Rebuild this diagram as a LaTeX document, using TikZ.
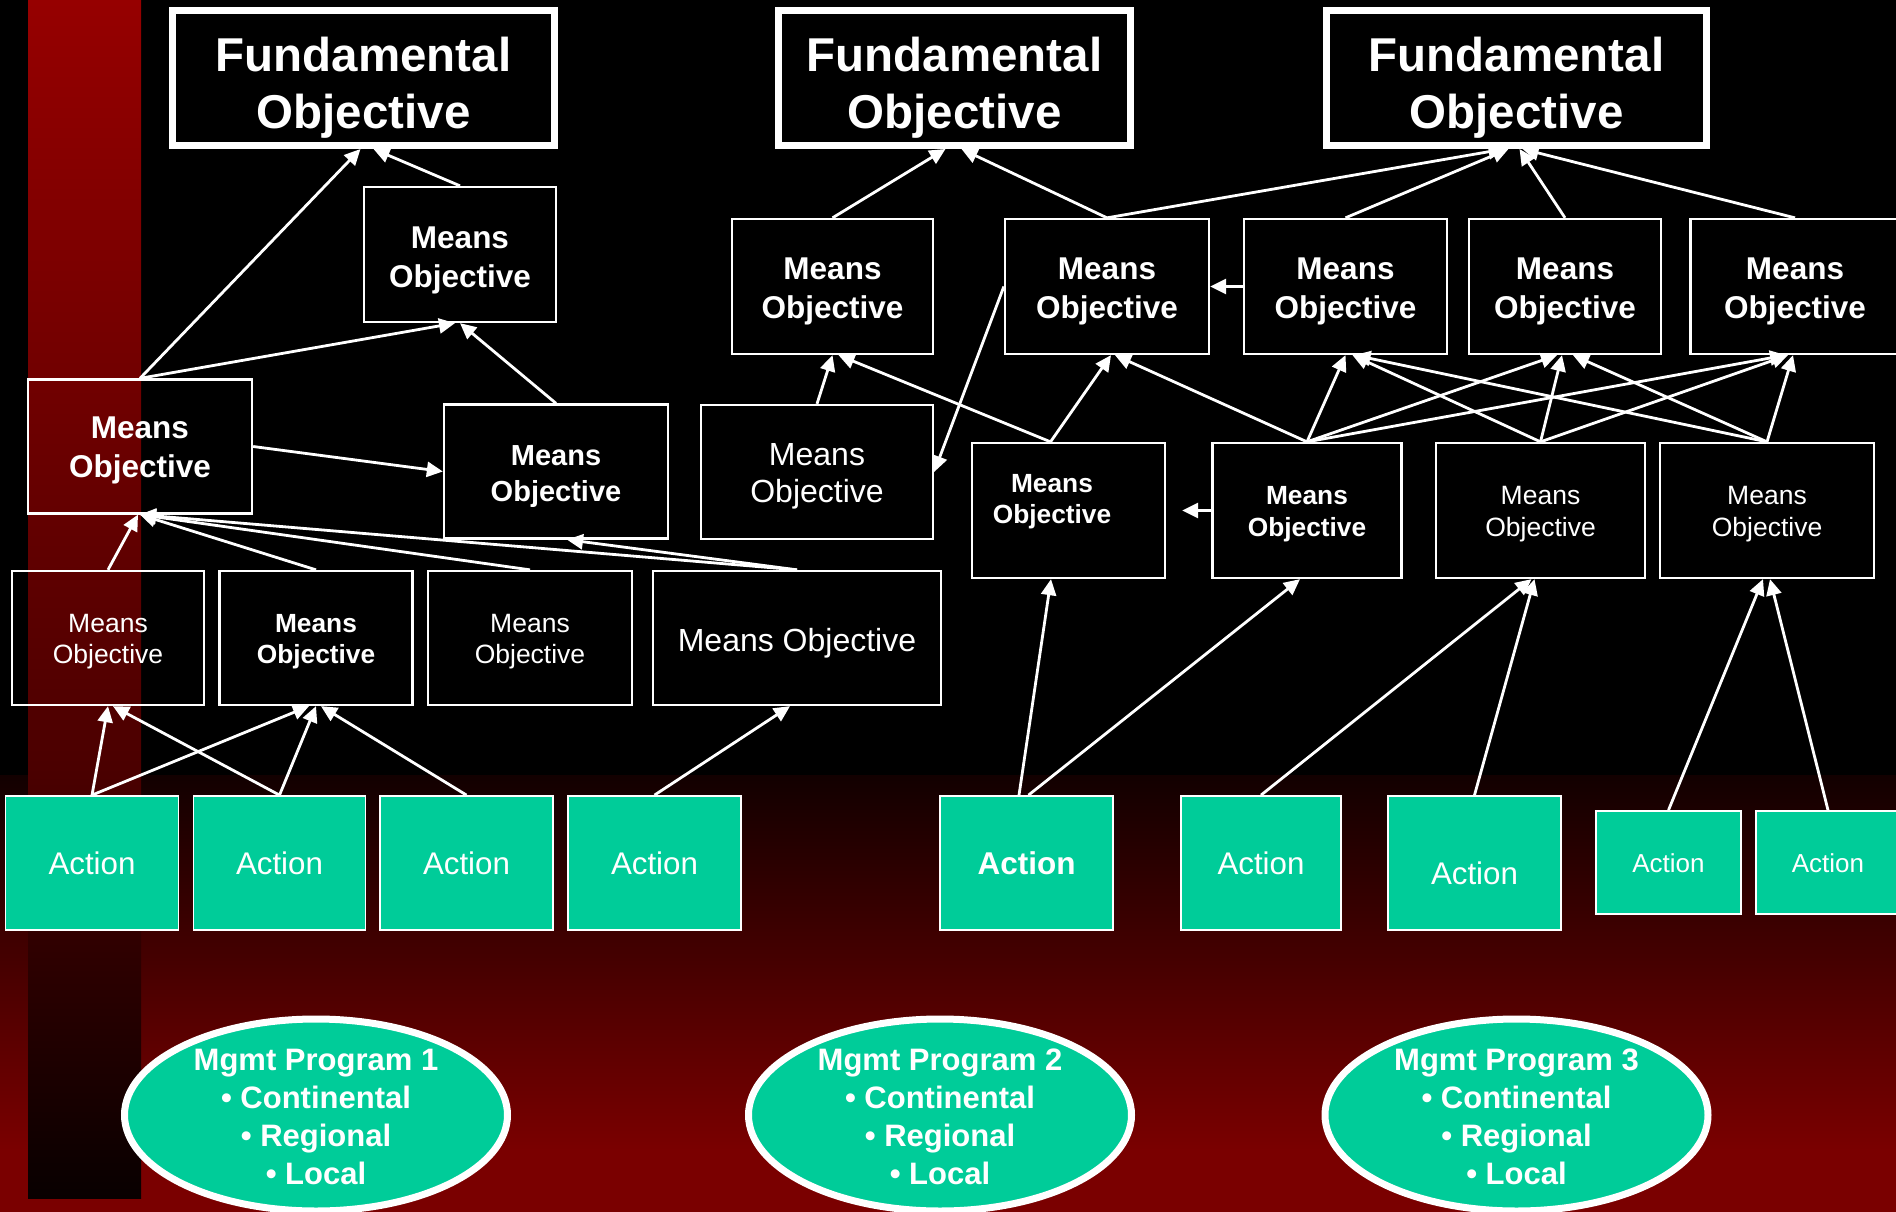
\documentclass[tikz,border=0pt]{standalone}
\usepackage{fontspec}
\setmainfont{Liberation Sans}
\usetikzlibrary{arrows.meta,shapes.geometric}

\definecolor{leaf}{RGB}{0,204,153}
\definecolor{bandTop}{RGB}{150,0,0}
\definecolor{bandMid}{RGB}{74,0,0}
\definecolor{bandLow}{RGB}{8,0,0}
\definecolor{floorTop}{RGB}{18,0,0}
\definecolor{floorLow}{RGB}{122,0,0}

% objective box: name, x, y, width, height, font style, label shift, text
\newcommand\moBox[8]{%
  \node[mobox, minimum width=#4pt, minimum height=#5pt,
        label={[txt,#6,#7,name=#1-t]center:#8}] (#1) at (#2,#3) {};}
% action box: name, x, y, width, height, font style, label shift, text
\newcommand\actBox[8]{%
  \node[actbox, minimum width=#4pt, minimum height=#5pt,
        label={[txt,#6,#7,name=#1-t]center:#8}] (#1) at (#2,#3) {};}

\begin{document}
\begin{tikzpicture}[x=1pt,y=-1pt,
  fobox/.style={draw=white, line width=7pt, inner sep=0pt, minimum height=135pt},
  mobox/.style={draw=white, line width=2.3pt, inner sep=0pt},
  actbox/.style={draw=white, line width=1.8pt, fill=leaf, inner sep=0pt},
  progbox/.style={ellipse, draw=white, line width=7pt, fill=leaf, inner sep=0pt,
                  minimum width=383pt, minimum height=192pt},
  txt/.style={text=white, align=center, inner sep=0pt},
  fFO/.style={font=\fontsize{47.5}{57}\selectfont\bfseries},
  fBL/.style={font=\fontsize{31.5}{38.5}\selectfont\bfseries},
  fBC/.style={font=\fontsize{29}{36}\selectfont\bfseries},
  fBS/.style={font=\fontsize{26.3}{31.5}\selectfont\bfseries},
  fRS/.style={font=\fontsize{26.5}{31.5}\selectfont},
  fRL/.style={font=\fontsize{32}{37.5}\selectfont},
  fA/.style={font=\fontsize{31.3}{36}\selectfont},
  fAB/.style={font=\fontsize{31.5}{36}\selectfont\bfseries},
  fAS/.style={font=\fontsize{26}{30}\selectfont},
  fP/.style={font=\fontsize{31}{38}\selectfont\bfseries},
  link/.style={draw=white, line width=2.8pt, -{Triangle[length=16pt,width=15pt]}},
]
\useasboundingbox (0,0) rectangle (1896,1212);
\clip (0,0) rectangle (1896,1212);

% backdrop
\fill[black] (0,0) rectangle (1896,776);
\shade[top color=floorTop, bottom color=floorLow] (0,775) rectangle (1896,1150);
\fill[floorLow] (0,1149.5) rectangle (1896,1212);
% red side band
\shade[top color=bandTop, bottom color=bandMid] (28,0) rectangle (141,775.5);
\shade[top color=bandMid, bottom color=bandLow] (28,775) rectangle (141,1198);

% fundamental objectives
\node[fobox, minimum width=382pt, label={[txt,fFO,yshift=-10pt,name=fo1-t]center:Fundamental\\Objective}] (fo1) at (363.5,78) {};
\node[fobox, minimum width=352pt, label={[txt,fFO,yshift=-10pt,name=fo2-t]center:Fundamental\\Objective}] (fo2) at (954.5,78) {};
\node[fobox, minimum width=380pt, label={[txt,fFO,yshift=-10pt,name=fo3-t]center:Fundamental\\Objective}] (fo3) at (1516.5,78) {};

% means objectives, program 1
\moBox{ma}{460}{254.5}{192}{135}{fBL}{yshift=-6pt}{Means\\Objective}
\moBox{mb}{140}{446.5}{224}{134}{fBL}{yshift=-4pt}{Means\\Objective}
\moBox{mc}{556}{471.5}{224}{134}{fBC}{yshift=-5pt}{Means\\Objective}
\moBox{md}{108}{638}{192}{134}{fRS}{yshift=-3.5pt}{Means\\Objective}
\moBox{me}{316}{638}{193}{134}{fBS}{yshift=-3.5pt}{Means\\Objective}
\moBox{mf}{530}{638}{204}{134}{fRS}{yshift=-3.5pt}{Means\\Objective}
\moBox{mg}{797}{638}{288}{134}{fRL}{yshift=-5pt}{Means Objective}

% means objectives, programs 2 and 3
\moBox{mh}{832.5}{286.5}{201}{135}{fBL}{yshift=-5pt}{Means\\Objective}
\moBox{mi}{817}{472}{232}{134}{fRL}{yshift=-4.5pt}{Means\\Objective}
\moBox{mj}{1107}{286.5}{204}{135}{fBL}{yshift=-5pt}{Means\\Objective}
\moBox{mk}{1068.5}{510.5}{193}{135}{fBS}{xshift=-16.5pt,yshift=9pt}{Means\\Objective}
\moBox{ml}{1345.5}{286.5}{203}{135}{fBL}{yshift=-5pt}{Means\\Objective}
\moBox{mm}{1565}{286.5}{192}{135}{fBL}{yshift=-5pt}{Means\\Objective}
\moBox{mn}{1795}{286.5}{209}{135}{fBL}{yshift=-5pt}{Means\\Objective}
\moBox{mo}{1307}{510.5}{189}{135}{fBS}{yshift=-3.5pt}{Means\\Objective}
\moBox{mp}{1540.5}{510.5}{209}{135}{fRS}{yshift=-3.5pt}{Means\\Objective}
\moBox{mq}{1767}{510.5}{214}{135}{fRS}{yshift=-3.5pt}{Means\\Objective}

% actions
\actBox{a1}{92}{863}{173}{134}{fA}{yshift=0pt}{Action}
\actBox{a2}{279.5}{863}{172}{134}{fA}{yshift=0pt}{Action}
\actBox{a3}{466.5}{863}{173}{134}{fA}{yshift=0pt}{Action}
\actBox{a4}{654.5}{863}{173}{134}{fA}{yshift=0pt}{Action}
\actBox{a5}{1026.5}{863}{173}{134}{fAB}{yshift=0pt}{Action}
\actBox{a6}{1261}{863}{160}{134}{fA}{yshift=0pt}{Action}
\actBox{a7}{1474.5}{863}{173}{134}{fA}{yshift=-10pt}{Action}
\actBox{a8}{1668.5}{862.5}{145}{103}{fAS}{yshift=-1pt}{Action}
\actBox{a9}{1828}{862.5}{144}{103}{fAS}{yshift=-1pt}{Action}

% management programs
\node[progbox] (p1) at (316,1115) {};
\node[progbox] (p2) at (940,1115) {};
\node[progbox] (p3) at (1516.5,1115) {};
\node[txt,fP] (p1-t) at (316,1116.5) {Mgmt Program 1\\• Continental\\• Regional\\• Local};
\node[txt,fP] (p2-t) at (940,1116.5) {Mgmt Program 2\\• Continental\\• Regional\\• Local};
\node[txt,fP] (p3-t) at (1516.5,1116.5) {Mgmt Program 3\\• Continental\\• Regional\\• Local};

% links, program 1
\draw[link] (mb.north) -- ([xshift=-3pt]fo1.south);
\draw[link] (ma.north) -- ([xshift=10pt]fo1.south);
\draw[link] (mb.north) -- ([xshift=-5pt]ma.south);
\draw[link] (mc.north) -- (ma.south);
\draw[link] (mb.east) -- (mc.west);
\draw[link] (md.north) -- ([xshift=-2pt]mb.south);
\draw[link] (me.north) -- (mb.south);
\draw[link] (mf.north) -- (mb.south);
\draw[link] (mg.north) -- (mb.south);
\draw[link] (mg.north) -- ([xshift=11pt]mc.south);
\draw[link] (a1.north) -- (md.south);
\draw[link] (a1.north) -- ([xshift=-7pt]me.south);
\draw[link] (a2.north) -- ([xshift=5pt]md.south);
\draw[link] (a2.north) -- (me.south);
\draw[link] (a3.north) -- ([xshift=5pt]me.south);
\draw[link] (a4.north) -- ([xshift=-7pt]mg.south);

% links, program 2
\draw[link] (mh.north) -- ([xshift=-9pt]fo2.south);
\draw[link] (mj.north) -- ([xshift=7pt]fo2.south);
\draw[link] (mi.north) -- (mh.south);
\draw[link] ([xshift=-18pt]mk.north) -- ([xshift=6pt]mh.south);
\draw[link] ([xshift=-18pt]mk.north) -- ([xshift=4pt]mj.south);
\draw[link] (mj.west) -- (mi.east);
\draw[link] (ml.west) -- (mj.east);
\draw[link] (mo.north) -- ([xshift=8pt]mj.south);
\draw[link, shorten >=16pt] (mo.west) -- (mk.east);
\draw[link] ([xshift=-7.5pt]a5.north) -- ([xshift=-17.5pt]mk.south);
\draw[link] ([xshift=2pt]a5.north) -- ([xshift=-7pt]mo.south);

% links, program 3
\draw[link] (mj.north) -- ([xshift=-12pt]fo3.south);
\draw[link] (ml.north) -- ([xshift=-8pt]fo3.south);
\draw[link] (mm.north) -- ([xshift=3pt]fo3.south);
\draw[link] (mn.north) -- ([xshift=6pt]fo3.south);
\draw[link] (mo.north) -- (ml.south);
\draw[link] (mo.north) -- ([xshift=-8pt]mm.south);
\draw[link] (mo.north) -- ([xshift=-9pt]mn.south);
\draw[link] (mp.north) -- ([xshift=7pt]ml.south);
\draw[link] (mp.north) -- ([xshift=-3pt]mm.south);
\draw[link] (mp.north) -- ([xshift=-7pt]mn.south);
\draw[link] (mq.north) -- ([xshift=9pt]ml.south);
\draw[link] (mq.north) -- ([xshift=8pt]mm.south);
\draw[link] (mq.north) -- ([xshift=-2pt]mn.south);
\draw[link] (a6.north) -- ([xshift=-9pt]mp.south);
\draw[link] (a7.north) -- ([xshift=-6pt]mp.south);
\draw[link] (a8.north) -- ([xshift=-4pt]mq.south);
\draw[link] (a9.north) -- ([xshift=3pt]mq.south);
\end{tikzpicture}
\end{document}
